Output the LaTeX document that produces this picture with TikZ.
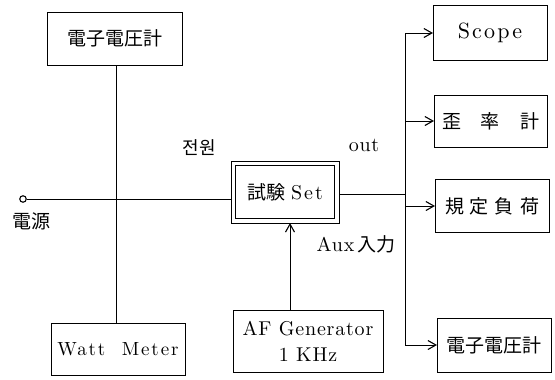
\documentclass[tikz,border=0pt]{standalone}
\usepackage{fontspec}
\newfontfamily\jp{Noto Sans CJK JP}
\newfontfamily\kr{Noto Sans CJK KR}
\newfontfamily\latA{lmroman10-regular.otf}[LetterSpace=4]
\newfontfamily\latB{lmroman10-regular.otf}[LetterSpace=10]
\usetikzlibrary{arrows.meta}
\newcommand\latfont{\fontsize{20bp}{26bp}\selectfont\latA}
\tikzset{
  every picture/.style={x=1bp,y=-1bp},
  box/.style={draw, line width=0.9bp, inner sep=0pt, outer sep=0pt},
  lat/.style={font=\latfont},
  jpt/.style={font=\fontsize{19bp}{24bp}\selectfont\jp},
  krt/.style={font=\fontsize{18bp}{24bp}\selectfont\kr},
  wire/.style={line width=0.8bp},
  arr/.style={wire, -{Straight Barb[length=8bp,width=9bp,line width=1.1bp]}}
}
\begin{document}
\begin{tikzpicture}
\useasboundingbox (0,0) rectangle (555,379);
% boxes
\node[box, jpt, minimum width=135bp, minimum height=53bp] (vm1) at (114.5,38.5) {電子電圧計};
\node[box, font=\fontsize{19bp}{24bp}\selectfont\latB, minimum width=134bp, minimum height=52bp] (wm) at (118,349) {Watt\ \ Meter};
\node[box, minimum width=108bp, minimum height=62bp] (set) at (285,192)
      {{\fontsize{19bp}{24bp}\selectfont\jp 試験}\hspace{6bp}{\fontsize{20bp}{24bp}\selectfont\latB Set}};
\draw[line width=0.8bp] ([shift={(4.5bp,4.5bp)}]set.south west) rectangle ([shift={(-4.5bp,-4.5bp)}]set.north east);
\node[box, lat, align=center, minimum width=150bp, minimum height=62bp] (af) at (308,341)
      {AF Generator\\1 KHz};
\node[box, font=\fontsize{22bp}{26bp}\selectfont\latB, minimum width=114bp, minimum height=55bp] (scope) at (490,33) {Scope};
\node[box, jpt, minimum width=113bp, minimum height=52bp] (dist) at (490.5,121) {歪\hspace{20bp}率\hspace{20bp}計};
\node[box, jpt, minimum width=114bp, minimum height=53bp] (load) at (492,206) {規\hspace{6bp}定\hspace{6bp}負\hspace{6bp}荷};
\node[box, jpt, minimum width=114bp, minimum height=54bp] (vm2) at (494,345) {電子電圧計};
% terminal
\node[circle, draw, line width=1.1bp, minimum size=6.5bp, inner sep=0pt] (term) at (23,199) {};
% labels
\node[jpt] (lsrc) at (31,221) {電源};
\node[krt] (lpow) at (199,148) {전원};
\node[lat] (lout) at (364,145) {out};
\node (laux) at (356,244)
      {{\latfont Aux}\hspace{3bp}{\fontsize{19bp}{24bp}\selectfont\jp 入力}};
% helper coordinates
\coordinate (tap) at (116,199);
\coordinate (outc) at (0,194);
\coordinate (bus) at (405,0);
\coordinate (auxx) at (290,0);
% wiring
\draw[wire] (term.east) -- (term.east -| set.west);
\draw[wire] (tap |- vm1.south) -- (tap |- wm.north);
\draw[wire] (set.east |- outc) -- (bus |- outc);
\draw[wire] (bus |- scope.west) -- (bus |- vm2.west);
\draw[arr] (bus |- scope.west) -- (scope.west);
\draw[arr] (bus |- dist.west) -- (dist.west);
\draw[arr] (bus |- load.west) -- (load.west);
\draw[arr] (bus |- vm2.west) -- (vm2.west);
\draw[arr] (auxx |- af.north) -- (auxx |- set.south);
\end{tikzpicture}
\end{document}
